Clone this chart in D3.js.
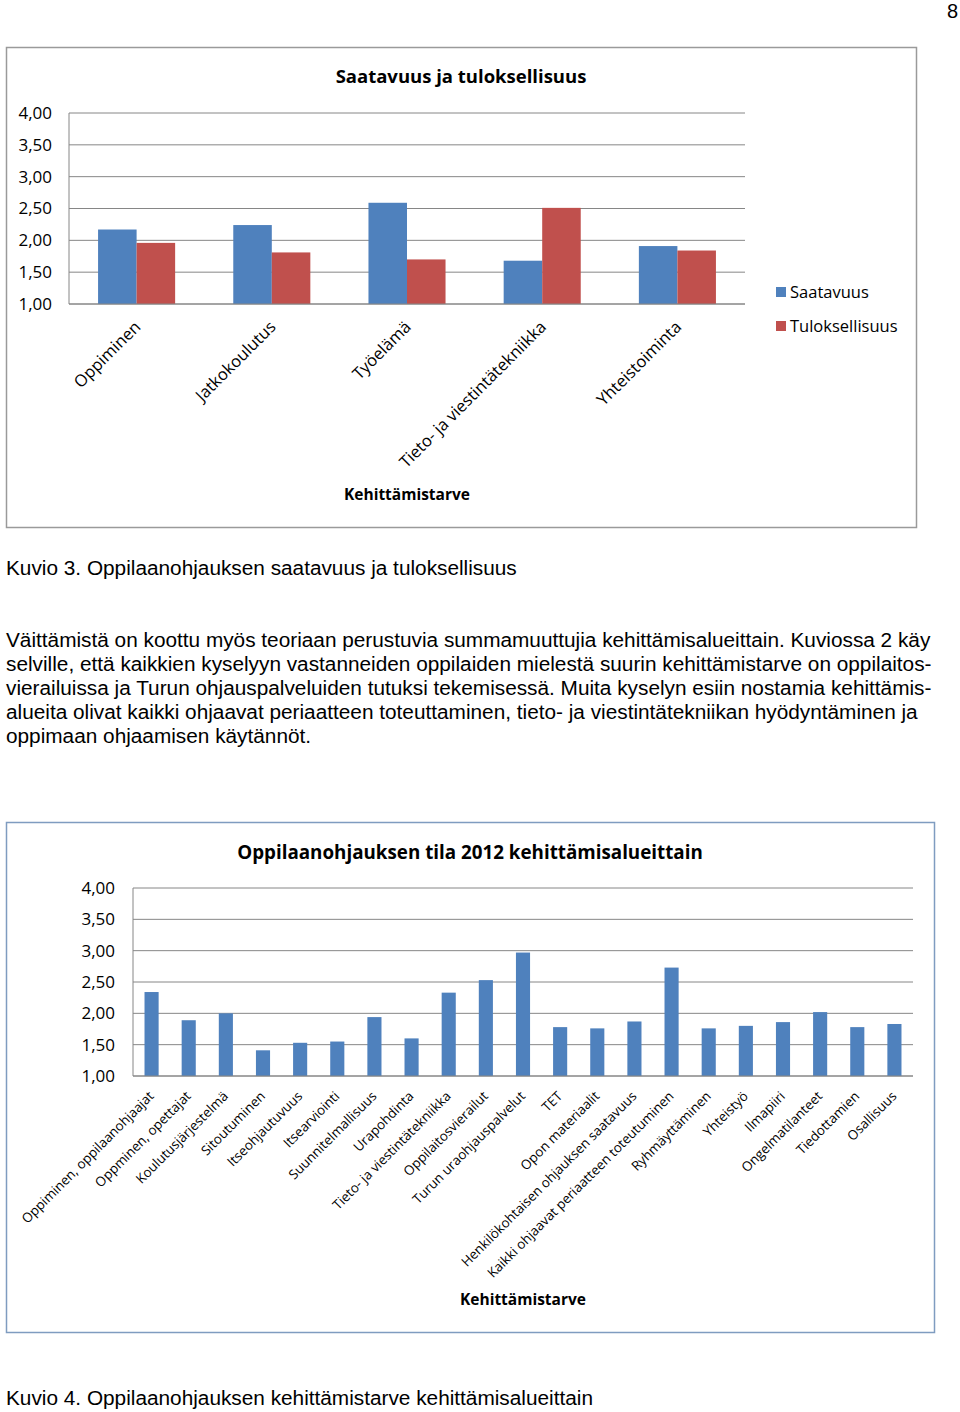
<!DOCTYPE html>
<meta charset="utf-8">
<style>
body { margin: 0; background: #fff; }
.chartfont { font-family: "Open Sans", sans-serif; }
.pagetext { font-family: "Liberation Sans", Arial, sans-serif; font-size: 20px; fill: #000; }
.grid line { stroke: #868686; stroke-width: 1px; }
</style>
<svg id="page" width="960" height="1412"></svg>
<script src="https://cdn.jsdelivr.net/npm/d3@7"></script>
<script>
// chart 1 data
var areas1 = ["Oppiminen", "Jatkokoulutus", "Työelämä", "Tieto- ja viestintätekniikka", "Yhteistoiminta"];
var saatavuus = [2.17, 2.24, 2.59, 1.68, 1.91];
var tuloksellisuus = [1.96, 1.81, 1.70, 2.51, 1.84];
var series1 = ["Saatavuus", "Tuloksellisuus"];

// chart 2 data
var areas2 = ["Oppiminen, oppilaanohjaajat", "Oppminen, opettajat", "Koulutusjärjestelmä", "Sitoutuminen",
  "Itseohjautuvuus", "Itsearviointi", "Suunnitelmallisuus", "Urapohdinta", "Tieto- ja viestintätekniikka",
  "Oppilaitosvierailut", "Turun uraohjauspalvelut", "TET", "Opon materiaalit",
  "Henkilökohtaisen ohjauksen saatavuus", "Kaikki ohjaavat periaatteen toteutuminen", "Ryhmäyttäminen",
  "Yhteistyö", "Ilmapiiri", "Ongelmatilanteet", "Tiedottamien", "Osallisuus"];
var tila2012 = [2.34, 1.89, 2.00, 1.41, 1.53, 1.55, 1.94, 1.60, 2.33, 2.53, 2.97, 1.78, 1.76,
  1.87, 2.73, 1.76, 1.80, 1.86, 2.02, 1.78, 1.83];

var yTicks = [1, 1.5, 2, 2.5, 3, 3.5, 4];

var paragraph = [
  "Väittämistä on koottu myös teoriaan perustuvia summamuuttujia kehittämisalueittain. Kuviossa 2 käy",
  "selville, että kaikkien kyselyyn vastanneiden oppilaiden mielestä suurin kehittämistarve on oppilaitos-",
  "vierailuissa ja Turun ohjauspalveluiden tutuksi tekemisessä. Muita kyselyn esiin nostamia kehittämis-",
  "alueita olivat kaikki ohjaavat periaatteen toteuttaminen, tieto- ja viestintätekniikan hyödyntäminen ja",
  "oppimaan ohjaamisen käytännöt."
];

var blue = "#4f81bd", red = "#c0504d";
var fi = d3.formatLocale({decimal: ",", thousands: " ", grouping: [3], currency: ["", "€"]});
var fmt = fi.format(".2f");

var svg = d3.select("#page");

// page text (the source font is a bit wider than Arial)
function pageText(x, y, t) {
  return svg.append("text").attr("class", "pagetext")
    .attr("transform", "translate(" + x + "," + y + ") scale(1.04,1)")
    .text(t);
}
svg.append("text").attr("class", "pagetext").attr("x", 958).attr("y", 18)
  .attr("text-anchor", "end").text("8");
pageText(6, 575, "Kuvio 3. Oppilaanohjauksen saatavuus ja tuloksellisuus");
paragraph.forEach(function(d, i) { pageText(6, 647 + i * 24, d); });
pageText(6, 1405, "Kuvio 4. Oppilaanohjauksen kehittämistarve kehittämisalueittain");

function yAxis(g, y, x0, x1, labelX) {
  g.append("g").attr("class", "grid")
    .selectAll("line").data(yTicks).enter().append("line")
    .attr("x1", x0).attr("x2", x1)
    .attr("y1", function(d) { return y(d); })
    .attr("y2", function(d) { return y(d); });
  g.append("line")
    .attr("x1", x0).attr("x2", x0)
    .attr("y1", y(4)).attr("y2", y(1))
    .attr("stroke", "#868686");
  g.append("g").selectAll("text").data(yTicks).enter().append("text")
    .attr("class", "chartfont")
    .attr("x", labelX)
    .attr("y", function(d) { return y(d); })
    .attr("dy", "0.35em")
    .attr("text-anchor", "end")
    .style("font-size", "17px")
    .text(function(d) { return fmt(d); });
}

// ---- chart 1 ----
var c1 = svg.append("g");
c1.append("rect").attr("x", 6.5).attr("y", 47.5).attr("width", 910).attr("height", 480)
  .attr("fill", "#fff").attr("stroke", "#9a9a9a").attr("stroke-width", 1.5);
c1.append("text").attr("class", "chartfont").attr("x", 461).attr("y", 83)
  .attr("text-anchor", "middle").style("font-size", "18.5px").style("font-weight", "bold")
  .text("Saatavuus ja tuloksellisuus");

var x1 = d3.scaleBand().domain(areas1).range([69, 745]).paddingInner(0.43).paddingOuter(0.215);
var xs1 = d3.scaleBand().domain(series1).range([0, x1.bandwidth()]);
var y1 = d3.scaleLinear().domain([1, 4]).range([304, 113]);
yAxis(c1, y1, 69, 745, 52);

var rows1 = areas1.map(function(a, i) { return {area: a, values: [saatavuus[i], tuloksellisuus[i]]}; });
var grp = c1.selectAll(".grp").data(rows1).enter().append("g")
  .attr("transform", function(d) { return "translate(" + x1(d.area) + ",0)"; });
grp.selectAll("rect").data(function(d) { return d.values; }).enter().append("rect")
  .attr("x", function(d, i) { return xs1(series1[i]); })
  .attr("width", xs1.bandwidth())
  .attr("y", function(d) { return y1(d); })
  .attr("height", function(d) { return y1(1) - y1(d); })
  .attr("fill", function(d, i) { return i == 0 ? blue : red; });
c1.append("line").attr("x1", 69).attr("x2", 745).attr("y1", y1(1)).attr("y2", y1(1)).attr("stroke", "#868686");

c1.selectAll(".xl").data(areas1).enter().append("text")
  .attr("class", "chartfont")
  .attr("text-anchor", "end")
  .style("font-size", "16.5px")
  .attr("transform", function(d) {
    return "translate(" + (x1(d) + x1.bandwidth() / 2 + 5) + ",328) rotate(-45)";
  })
  .text(function(d) { return d; });
c1.append("text").attr("class", "chartfont").attr("x", 407).attr("y", 500)
  .attr("text-anchor", "middle").style("font-size", "15.5px").style("font-weight", "bold")
  .text("Kehittämistarve");

var leg = c1.selectAll(".leg").data(series1).enter().append("g")
  .attr("transform", function(d, i) { return "translate(776," + (287 + i * 34) + ")"; });
leg.append("rect").attr("width", 10).attr("height", 10)
  .attr("fill", function(d, i) { return i == 0 ? blue : red; });
leg.append("text").attr("class", "chartfont").attr("x", 14).attr("y", 5).attr("dy", "0.35em")
  .style("font-size", "16.5px").text(function(d) { return d; });

// ---- chart 2 ----
var c2 = svg.append("g");
c2.append("rect").attr("x", 6.5).attr("y", 822.5).attr("width", 928).attr("height", 510)
  .attr("fill", "#fff").attr("stroke", "#7f9cc0").attr("stroke-width", 1.5);
c2.append("text").attr("class", "chartfont").attr("x", 470).attr("y", 859)
  .attr("text-anchor", "middle").style("font-size", "18.8px").style("font-weight", "bold")
  .text("Oppilaanohjauksen tila 2012 kehittämisalueittain");

var x2 = d3.scaleBand().domain(areas2).range([133, 913]).paddingInner(0.62).paddingOuter(0.31);
var y2 = d3.scaleLinear().domain([1, 4]).range([1076, 888]);
yAxis(c2, y2, 133, 913, 115);

c2.selectAll(".bar").data(tila2012).enter().append("rect")
  .attr("x", function(d, i) { return x2(areas2[i]); })
  .attr("width", x2.bandwidth())
  .attr("y", function(d) { return y2(d); })
  .attr("height", function(d) { return y2(1) - y2(d); })
  .attr("fill", blue);
c2.append("line").attr("x1", 133).attr("x2", 913).attr("y1", y2(1)).attr("y2", y2(1)).attr("stroke", "#868686");

c2.selectAll(".xl").data(areas2).enter().append("text")
  .attr("class", "chartfont")
  .attr("text-anchor", "end")
  .style("font-size", "13.3px")
  .attr("transform", function(d) {
    return "translate(" + (x2(d) + x2.bandwidth() / 2 + 3) + ",1097) rotate(-45)";
  })
  .text(function(d) { return d; });
c2.append("text").attr("class", "chartfont").attr("x", 523).attr("y", 1305)
  .attr("text-anchor", "middle").style("font-size", "15.5px").style("font-weight", "bold")
  .text("Kehittämistarve");
</script>
